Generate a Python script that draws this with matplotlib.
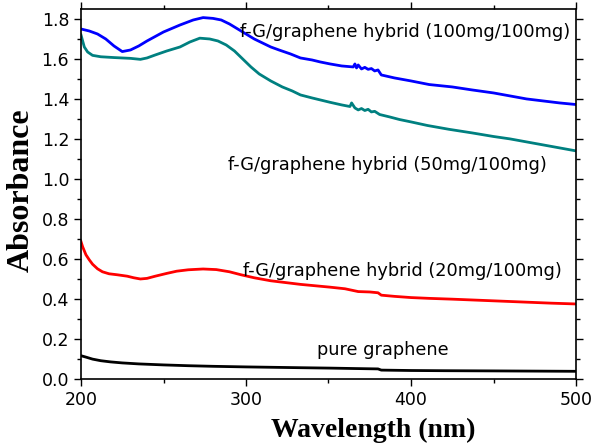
import numpy as np
import matplotlib
matplotlib.use('Agg')
import matplotlib.pyplot as plt

# f-G/graphene hybrid (100mg/100mg)
wl_100 = [200, 205, 210, 215, 220, 225, 230, 235, 240, 250, 260, 268, 274, 280, 285,
          290, 295, 300, 305, 310, 315, 320, 327, 333, 340, 345, 351, 358, 365, 366,
          367, 368, 370, 372, 374, 376, 378, 380, 382, 390, 400, 411, 425, 437, 450,
          460, 470, 480, 490, 500]
ab_100 = [1.75, 1.74, 1.725, 1.70, 1.665, 1.637, 1.645, 1.665, 1.69, 1.735, 1.77,
          1.795, 1.807, 1.803, 1.795, 1.775, 1.75, 1.725, 1.70, 1.68, 1.66, 1.645,
          1.625, 1.605, 1.595, 1.585, 1.575, 1.565, 1.56, 1.575, 1.555, 1.57, 1.55,
          1.558, 1.548, 1.552, 1.54, 1.545, 1.52, 1.505, 1.49, 1.472, 1.46, 1.445,
          1.43, 1.415, 1.40, 1.39, 1.38, 1.372]

# f-G/graphene hybrid (50mg/100mg)
wl_50 = [200, 201, 202, 204, 207, 212, 220, 230, 236, 240, 245, 252, 260, 266, 272,
         278, 283, 288, 293, 298, 303, 308, 315, 322, 328, 333, 340, 345, 351, 358,
         363, 364, 366, 368, 370, 372, 374, 376, 378, 381, 387, 393, 400, 410, 423,
         437, 450, 460, 470, 480, 490, 500]
ab_50 = [1.72, 1.69, 1.66, 1.635, 1.618, 1.611, 1.607, 1.603, 1.598, 1.605, 1.62,
         1.64, 1.66, 1.685, 1.704, 1.70, 1.69, 1.67, 1.64, 1.60, 1.56, 1.525, 1.49,
         1.46, 1.44, 1.42, 1.405, 1.395, 1.383, 1.37, 1.362, 1.38, 1.355, 1.345,
         1.352, 1.342, 1.348, 1.335, 1.338, 1.322, 1.31, 1.297, 1.285, 1.267, 1.248,
         1.23, 1.212, 1.20, 1.185, 1.17, 1.155, 1.14]

# f-G/graphene hybrid (20mg/100mg)
wl_20 = [200, 201, 203, 205, 207, 210, 213, 217, 222, 228, 232, 236, 240, 245, 252,
         258, 265, 274, 282, 290, 297, 305, 315, 325, 333, 342, 351, 360, 364, 368,
         375, 380, 382, 390, 400, 411, 425, 437, 455, 470, 485, 500]
ab_20 = [0.686, 0.66, 0.62, 0.595, 0.573, 0.55, 0.535, 0.525, 0.52, 0.513, 0.505,
         0.499, 0.502, 0.513, 0.527, 0.538, 0.545, 0.549, 0.546, 0.535, 0.52, 0.505,
         0.49, 0.48, 0.472, 0.465, 0.458, 0.45, 0.443, 0.436, 0.434, 0.43, 0.418,
         0.412, 0.406, 0.402, 0.398, 0.394, 0.388, 0.383, 0.378, 0.374]

# pure graphene
wl_0 = [200, 203, 207, 212, 218, 225, 235, 250, 265, 280, 300, 333, 351, 365, 380,
        382, 400, 420, 450, 500]
ab_0 = [0.115, 0.108, 0.098, 0.09, 0.084, 0.079, 0.074, 0.069, 0.065, 0.062, 0.059,
        0.055, 0.053, 0.051, 0.049, 0.043, 0.041, 0.04, 0.039, 0.037]

labels = ['f-G/graphene hybrid (100mg/100mg)', 'f-G/graphene hybrid (50mg/100mg)',
          'f-G/graphene hybrid (20mg/100mg)', 'pure graphene']

fig = plt.figure(figsize=(5.95, 4.45), dpi=100)
ax = fig.add_axes([81 / 595, 1 - 378.7 / 445, 495 / 595, 369.7 / 445])

ax.plot(wl_100, ab_100, color='#0000ff', lw=2)
ax.plot(wl_50, ab_50, color='#008080', lw=2)
ax.plot(wl_20, ab_20, color='#ff0000', lw=2)
ax.plot(wl_0, ab_0, color='black', lw=2)

ax.text(296.5, 1.735, labels[0], fontsize=12.8, va='center', ha='left')
ax.text(289, 1.07, labels[1], fontsize=12.8, va='center', ha='left')
ax.text(298, 0.539, labels[2], fontsize=12.8, va='center', ha='left')
ax.text(343, 0.144, labels[3], fontsize=12.8, va='center', ha='left')

ax.set_xlim(200, 500)
ax.set_ylim(0, 1.85)
ax.set_xticks([200, 300, 400, 500])
ax.set_xticks([250, 350, 450], minor=True)
ax.set_yticks(np.arange(0, 1.81, 0.2))
ax.set_yticks(np.arange(0.1, 1.81, 0.2), minor=True)
ax.set_yticklabels(['%.1f' % v for v in np.arange(0, 1.81, 0.2)])

ax.tick_params(which='major', direction='out', length=5, width=1, labelsize=12.5)
ax.tick_params(which='minor', direction='out', length=3, width=1)
ax.tick_params(which='both', top=True, right=True)

for s in ax.spines.values():
    s.set_linewidth(1.2)

ax.set_xlabel('Wavelength (nm)', fontsize=20, fontweight='bold',
              family='Liberation Serif')
ax.set_ylabel('Absorbance', fontsize=23, fontweight='bold',
              family='Liberation Serif')
ax.xaxis.set_label_coords(0.59, -0.139)
ax.xaxis.label.set_va('center')
ax.yaxis.set_label_coords(-0.121, 0.51)
ax.yaxis.label.set_va('center')

fig.savefig('out.png', dpi=100)
